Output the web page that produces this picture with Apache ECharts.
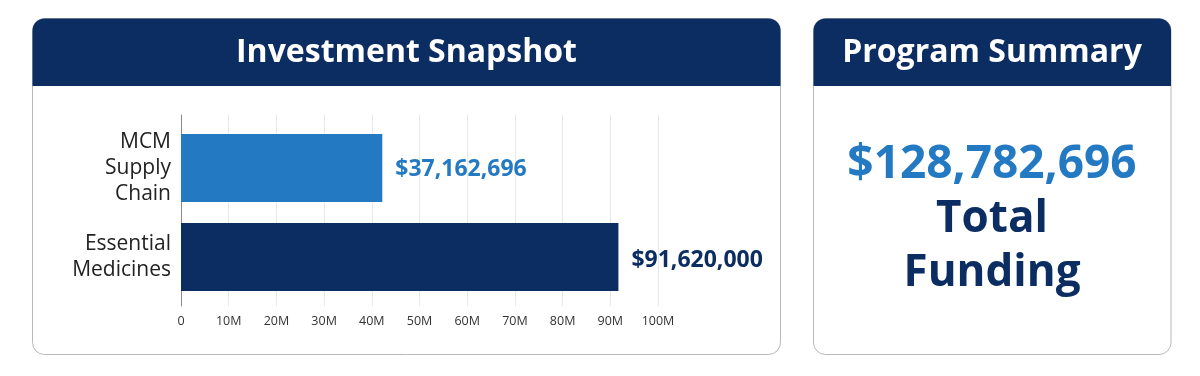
<!DOCTYPE html>
<html>
<head>
<meta charset="utf-8">
<script src="https://cdn.jsdelivr.net/npm/echarts@6/dist/echarts.min.js"></script>
<style>
html,body{margin:0;padding:0;background:#fff;}
#c{width:1200px;height:376px;}
</style>
</head>
<body>
<div id="c"></div>
<script>
// ---- data ----
var categories = ['MCM\nSupply\nChain', 'Essential\nMedicines'];
var barValues = [42200000, 91700000];          // bar lengths as drawn in the picture
var fundingAmounts = [37162696, 91620000];     // dollar amounts shown as labels
var barColors = ['#2479c3', '#0b2d62'];
var tickValues = [0, 10e6, 20e6, 30e6, 40e6, 50e6, 60e6, 70e6, 80e6, 90e6, 100e6];
var tickLabels = ['0', '10M', '20M', '30M', '40M', '50M', '60M', '70M', '80M', '90M', '100M'];
var leftTitle = 'Investment Snapshot';
var rightTitle = 'Program Summary';
var totalCaption = 'Total\nFunding';

var NAVY = '#0b2d62';
var BLUE = '#2479c3';
var FONT = '"Open Sans", "Noto Sans", sans-serif';

function money(v) { return '$' + v.toLocaleString('en-US'); }
var total = fundingAmounts.reduce(function (a, b) { return a + b; }, 0);

var chart = echarts.init(document.getElementById('c'), null, { renderer: 'canvas' });

var option = {
  animation: false,
  grid: [
    { left: 181, width: 477, top: 115, height: 191, containLabel: false },
    { left: 181, width: 477, top: 123.5, height: 178, containLabel: false }
  ],
  xAxis: [
    {
      gridIndex: 0, type: 'value', min: 0, max: 100e6, interval: 10e6,
      axisLine: { show: false }, axisTick: { show: false },
      splitLine: { show: true, lineStyle: { color: '#e8e8e8', width: 1 } },
      axisLabel: {
        color: '#333', fontSize: 12.5, fontFamily: FONT, margin: 9,
        formatter: function (v) { var i = tickValues.indexOf(v); return i >= 0 ? tickLabels[i] : ''; }
      }
    },
    {
      gridIndex: 1, type: 'value', min: 0, max: 100e6, show: false
    }
  ],
  yAxis: [
    {
      gridIndex: 0, type: 'category', data: categories, inverse: true,
      axisLine: { show: true, lineStyle: { color: '#8a8a8a', width: 1 } },
      axisTick: { show: false }, axisLabel: { show: false }, splitLine: { show: false }
    },
    {
      gridIndex: 1, type: 'category', data: categories, inverse: true,
      axisLine: { show: false }, axisTick: { show: false }, splitLine: { show: false },
      axisLabel: {
        color: '#222', fontSize: 21, fontFamily: FONT, lineHeight: 26,
        margin: 10, align: 'right', padding: [6, 0, 0, 0]
      }
    }
  ],
  series: [{
    type: 'bar',
    xAxisIndex: 1, yAxisIndex: 1,
    barWidth: 68,
    data: barValues.map(function (v, i) {
      return {
        value: v,
        itemStyle: { color: barColors[i] },
        label: { color: barColors[i], offset: [0, i === 0 ? 1 : 3] }
      };
    }),
    label: {
      show: true, position: 'right', distance: 13,
      fontFamily: FONT, fontWeight: 'bold', fontSize: 23,
      formatter: function (p) { return money(fundingAmounts[p.dataIndex]); }
    }
  }],
  graphic: [
    // left panel
    { type: 'rect', z: -10, shape: { x: 32.5, y: 18.5, width: 748, height: 336, r: 12 },
      style: { fill: '#fff', stroke: '#b8b8b8', lineWidth: 1 } },
    { type: 'rect', z: -9, shape: { x: 32.5, y: 18.5, width: 748, height: 67.5, r: [12, 12, 0, 0] },
      style: { fill: NAVY } },
    { type: 'text', z: 10, x: 406.5, y: 53,
      style: { text: leftTitle, fill: '#fff', font: 'bold 32px ' + FONT, align: 'center', verticalAlign: 'middle' } },
    // right panel
    { type: 'rect', z: -10, shape: { x: 813.5, y: 18.5, width: 357.5, height: 336, r: 12 },
      style: { fill: '#fff', stroke: '#b8b8b8', lineWidth: 1 } },
    { type: 'rect', z: -9, shape: { x: 813.5, y: 18.5, width: 357.5, height: 67.5, r: [12, 12, 0, 0] },
      style: { fill: NAVY } },
    { type: 'text', z: 10, x: 992, y: 53,
      style: { text: rightTitle, fill: '#fff', font: 'bold 32px ' + FONT, align: 'center', verticalAlign: 'middle' } },
    { type: 'text', z: 10, x: 992, y: 165,
      style: { text: money(total), fill: BLUE, font: 'bold 46px ' + FONT, align: 'center', verticalAlign: 'middle' } },
    { type: 'text', z: 10, x: 992, y: 246,
      style: { text: totalCaption, fill: NAVY, font: 'bold 44px ' + FONT, lineHeight: 54, align: 'center', verticalAlign: 'middle' } }
  ]
};
chart.setOption(option);
</script>
</body>
</html>
